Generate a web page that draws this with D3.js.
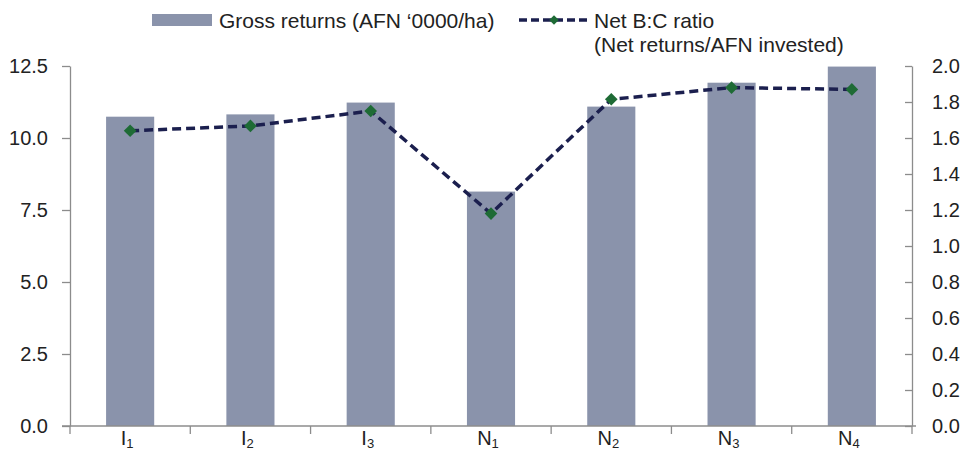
<!DOCTYPE html>
<html><head><meta charset="utf-8">
<script src="https://cdn.jsdelivr.net/npm/d3@7"></script>
<style>body{margin:0;background:#fff}svg text{font-family:"Liberation Sans",Arial,sans-serif}</style>
</head><body><svg id="c" width="962" height="451"></svg>
<script>
const categories = [["I","1"],["I","2"],["I","3"],["N","1"],["N","2"],["N","3"],["N","4"]];
const grossReturns = [10.74, 10.82, 11.23, 8.14, 11.09, 11.92, 12.48];
const bcRatio = [1.64, 1.667, 1.75, 1.18, 1.815, 1.88, 1.87];
const leftTicks = [0, 2.5, 5, 7.5, 10, 12.5];
const rightTicks = [0, 0.2, 0.4, 0.6, 0.8, 1.0, 1.2, 1.4, 1.6, 1.8, 2.0];

const svg = d3.select("#c");
const x0 = 70, x1 = 912, yTop = 66, yBot = 426;
const axisCol = "#8c8c8c", textCol = "#222";
const ids = categories.map((d,i)=>i);
const x = d3.scaleBand().domain(ids).range([x0, x1]).paddingInner(0).paddingOuter(0);
const yL = d3.scaleLinear().domain([0,12.5]).range([yBot, yTop]);
const yR = d3.scaleLinear().domain([0,2]).range([yBot, yTop]);
const barW = x.bandwidth()*0.4;

// bars
svg.append("g").selectAll("rect").data(grossReturns).join("rect")
  .attr("x",(d,i)=>x(i)+x.bandwidth()/2-barW/2)
  .attr("y",d=>yL(d)).attr("width",barW).attr("height",d=>yBot-yL(d))
  .attr("fill","#8a93ab");

// left axis
const gl = svg.append("g").attr("transform",`translate(${x0},0)`)
  .call(d3.axisLeft(yL).tickValues(leftTicks).tickFormat(d3.format(".1f")).tickSize(8).tickSizeOuter(0));
gl.select(".domain").attr("stroke",axisCol).attr("stroke-width",1.3);
gl.selectAll(".tick line").attr("stroke",axisCol).attr("stroke-width",1.3);
gl.selectAll(".tick text").attr("fill",textCol).attr("font-size",20).attr("x",-22).attr("dy","0.3em");

// right axis
const gr = svg.append("g").attr("transform",`translate(${x1},0)`)
  .call(d3.axisRight(yR).tickValues(rightTicks).tickFormat(d3.format(".1f")).tickSize(-7).tickSizeOuter(0));
gr.select(".domain").attr("stroke",axisCol).attr("stroke-width",1.3);
gr.selectAll(".tick line").attr("stroke",axisCol).attr("stroke-width",1.3);
gr.selectAll(".tick text").attr("fill",textCol).attr("font-size",20).attr("x",20).attr("dy","0.3em");

// x axis
svg.append("line").attr("x1",x0-8).attr("x2",x1+4).attr("y1",yBot).attr("y2",yBot)
  .attr("stroke",axisCol).attr("stroke-width",1.3);
const bounds = ids.map(i=>x(i)).concat([x1]);
svg.append("g").selectAll("line").data(bounds).join("line")
  .attr("x1",d=>d).attr("x2",d=>d).attr("y1",yBot).attr("y2",yBot+8)
  .attr("stroke",axisCol).attr("stroke-width",1.3);
const xl = svg.append("g").selectAll("text").data(categories).join("text")
  .attr("x",(d,i)=>x(i)+x.bandwidth()/2-3).attr("y",445)
  .attr("text-anchor","middle").attr("fill",textCol).attr("font-size",20);
xl.append("tspan").text(d=>d[0]);
xl.append("tspan").attr("font-size",13).attr("dy",3).text(d=>d[1]);

// line
const line = d3.line().x((d,i)=>x(i)+x.bandwidth()/2).y(d=>yR(d));
svg.append("path").datum(bcRatio).attr("d",line).attr("fill","none")
  .attr("stroke","#1b1f4e").attr("stroke-width",3.5).attr("stroke-dasharray","9,5");
const sym = d3.symbol().type(d3.symbolSquare).size(80);
svg.append("g").selectAll("path").data(bcRatio).join("path")
  .attr("d",sym).attr("transform",(d,i)=>`translate(${x(i)+x.bandwidth()/2},${yR(d)}) rotate(45)`)
  .attr("fill","#1e6b35");

// legend
svg.append("rect").attr("x",152).attr("y",14).attr("width",60).attr("height",12).attr("fill","#8a93ab");
svg.append("text").attr("x",219).attr("y",28).attr("font-size",21).attr("fill",textCol).text("Gross returns (AFN \u20180000/ha)");
svg.append("line").attr("x1",519).attr("x2",589).attr("y1",20).attr("y2",20)
  .attr("stroke","#1b1f4e").attr("stroke-width",3.5).attr("stroke-dasharray","8,4");
svg.append("path").attr("d",d3.symbol().type(d3.symbolSquare).size(45)).attr("transform","translate(554,20) rotate(45)").attr("fill","#1e6b35");
svg.append("text").attr("x",594).attr("y",28).attr("font-size",21).attr("fill",textCol).text("Net B:C ratio");
svg.append("text").attr("x",594).attr("y",52).attr("font-size",21).attr("fill",textCol).text("(Net returns/AFN invested)");
</script></body></html>
